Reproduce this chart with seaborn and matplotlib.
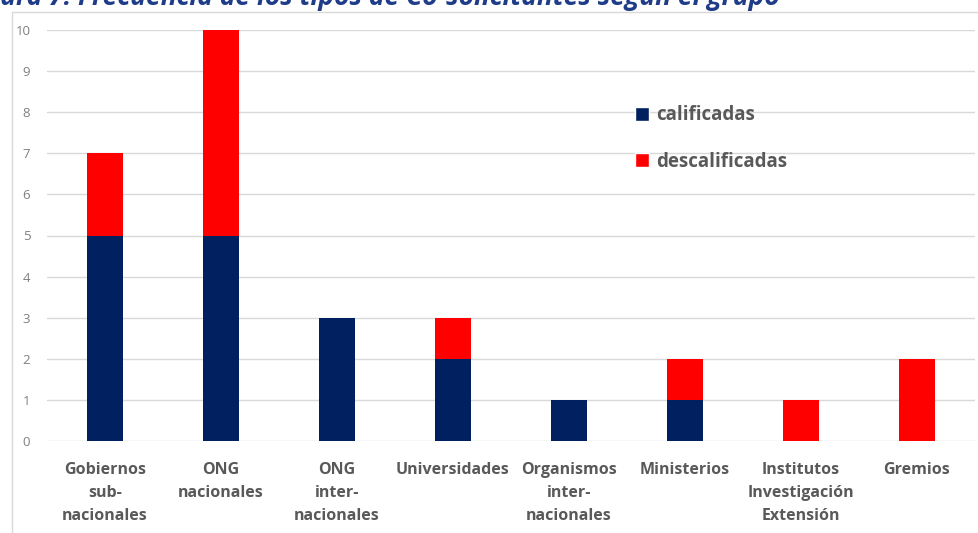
import numpy as np
import pandas as pd
import matplotlib
matplotlib.use("Agg")
import matplotlib.pyplot as plt
import seaborn as sns
from matplotlib.patches import Patch
from matplotlib.lines import Line2D

# data
grupos = ["Gobiernos\nsub-\nnacionales", "ONG\nnacionales", "ONG\ninter-\nnacionales",
          "Universidades", "Organismos\ninter-\nnacionales", "Ministerios",
          "Institutos\nInvestigación\nExtensión", "Gremios"]
calificadas = [5, 5, 3, 2, 1, 1, 0, 0]
descalificadas = [2, 5, 0, 1, 0, 1, 1, 2]
y_ticks = list(range(0, 11))

df = pd.DataFrame({"grupo": grupos, "calificadas": calificadas,
                   "descalificadas": descalificadas})
df["total"] = df["calificadas"] + df["descalificadas"]

navy = "#002060"
red = "#FF0000"
gris = "#595959"

sns.set_style("white")
plt.rcParams["font.family"] = ["Open Sans", "DejaVu Sans"]

fig = plt.figure(figsize=(9.79, 5.33), dpi=100)
ax = fig.add_axes([47 / 979, 1 - 441 / 533, 928 / 979, 411 / 533])

# stacked bars: total in red, calificadas in navy on top of it
sns.barplot(data=df, x="grupo", y="total", color=red, width=0.31, saturation=1,
            linewidth=0, ax=ax)
sns.barplot(data=df, x="grupo", y="calificadas", color=navy, width=0.31, saturation=1,
            linewidth=0, ax=ax)

ax.set_ylim(0, 10)
ax.set_xlim(-0.5, len(grupos) - 0.5)
ax.set_yticks(y_ticks)
ax.set_xlabel("")
ax.set_ylabel("")
ax.yaxis.grid(True, color="#d9d9d9", linewidth=1)
ax.set_axisbelow(True)
for s in ax.spines.values():
    s.set_visible(False)
ax.tick_params(axis="y", length=0, pad=12, labelsize=9.5, labelcolor="#7f7f7f")
ax.tick_params(axis="x", length=0, pad=15, labelsize=11.5, labelcolor=gris)
for lbl in ax.get_xticklabels():
    lbl.set_fontweight("bold")
    lbl.set_linespacing(1.6)
    lbl.set_verticalalignment("top")

handles = [Patch(facecolor=navy, label="calificadas"),
           Patch(facecolor=red, label="descalificadas")]
leg = ax.legend(handles=handles, loc="upper left", bbox_to_anchor=(0.626, 0.835),
                frameon=False, fontsize=13.5, handlelength=0.75, handleheight=0.75,
                handletextpad=0.35, labelspacing=1.4, borderaxespad=0)
for t in leg.get_texts():
    t.set_color(gris)
    t.set_fontweight("bold")

# light frame of the chart area
fig.add_artist(Line2D([12 / 979, 12 / 979], [0, 1 - 12 / 533], color="#d9d9d9", lw=1))
fig.add_artist(Line2D([12 / 979, 1], [1 - 12 / 533, 1 - 12 / 533], color="#d9d9d9", lw=1))

# title, cut off at the top of the screenshot
fig.text(780 / 979, 1 - 5 / 533, "Figura 7. Frecuencia de los tipos de Co-solicitantes según el grupo",
         ha="right", va="baseline", fontsize=19, fontweight="bold", fontstyle="italic",
         color="#1f3c88")

fig.savefig("out.png", dpi=100)
